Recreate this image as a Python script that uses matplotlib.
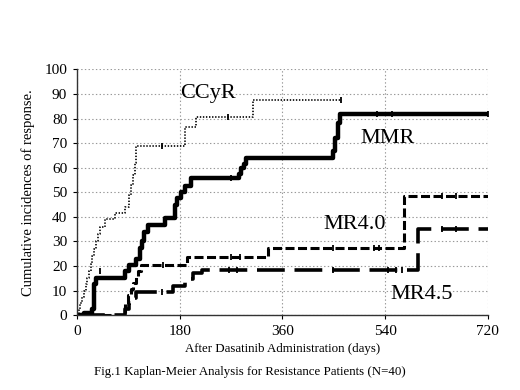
import matplotlib
matplotlib.use("Agg")
import matplotlib.pyplot as plt

plt.rcParams['font.family'] = ['Liberation Serif', 'DejaVu Serif']
plt.rcParams['lines.scale_dashes'] = False

# ---- data (days, cumulative incidence %) ----
ccyr_t = [0, 3, 6, 9, 12, 15, 18, 21, 24, 27, 30, 33, 36, 40, 49, 66, 84, 92, 95, 98, 101, 104, 189, 209, 308]
ccyr_v = [0, 2.5, 5, 7.5, 10, 12.5, 15, 18, 21, 24, 27, 30, 33, 36, 39, 41.5, 44, 49, 53, 57, 62, 69, 76.5, 80.5, 87.5]
ccyr_end = 463
ccyr_cens_t = [149, 265, 463]
ccyr_cens_v = [69, 80.5, 87.5]

mmr_t = [0, 12, 26, 29, 33, 84, 92, 104, 110, 114, 118, 124, 154, 171, 176, 182, 190, 200, 284, 288, 292, 296, 449, 453, 457, 461]
mmr_v = [0, 1, 2.5, 12.5, 15, 18, 20.5, 23, 27.5, 30, 34, 36.5, 39.5, 45, 47.5, 50, 52.5, 56, 57.5, 60, 61.5, 64, 67, 72, 78, 82]
mmr_end = 720
mmr_cens_t = [40, 270, 525, 553, 720]
mmr_cens_v = [18, 56, 82, 82, 82]

mr40_t = [0, 84, 89, 95, 99, 103, 107, 113, 192, 335, 574]
mr40_v = [0, 5.5, 8, 10.5, 13, 15.5, 18, 20.5, 23.5, 27.5, 48.5]
mr40_end = 720
mr40_cens_t = [150, 270, 285, 449, 520, 530, 640, 665]
mr40_cens_v = [20.5, 23.5, 23.5, 27.5, 27.5, 27.5, 48.5, 48.5]

mr45_t = [0, 84, 91, 98, 104, 168, 189, 203, 219, 598]
mr45_v = [0, 2.5, 5, 7, 9.5, 12, 14.5, 17, 18.5, 35]
mr45_end = 720
mr45_cens_t = [149, 267, 280, 449, 545, 560, 570, 640, 665]
mr45_cens_v = [9.5, 18.5, 18.5, 18.5, 18.5, 18.5, 18.5, 35, 35]

labels = ["CCyR", "MMR", "MR4.0", "MR4.5"]
xticks = [0, 180, 360, 540, 720]
yticks = list(range(0, 101, 10))

fig = plt.figure(figsize=(5.2, 3.9), dpi=100)
ax = fig.add_axes([0.148, 0.192, 0.79, 0.63])

def km(t, v, end, ct, cv, **kw):
    ax.step(t + [end], v + [v[-1]], where='post', color='black', **kw)
    ax.plot(ct, cv, linestyle='none', marker='|', color='black', markersize=4.5, mew=1.3)

km(ccyr_t, ccyr_v, ccyr_end, ccyr_cens_t, ccyr_cens_v, lw=1.2, dashes=(1.0, 1.2))
km(mmr_t, mmr_v, mmr_end, mmr_cens_t, mmr_cens_v, lw=3.2)
km(mr40_t, mr40_v, mr40_end, mr40_cens_t, mr40_cens_v, lw=2.2, dashes=(6.5, 2.5))
km(mr45_t, mr45_v, mr45_end, mr45_cens_t, mr45_cens_v, lw=2.6, dashes=(20, 7))

ax.set_xlim(0, 720)
ax.set_ylim(0, 100)
ax.set_xticks(xticks)
ax.set_yticks(yticks)
ax.grid(True, color='#999999', linestyle=':', linewidth=0.8)
ax.set_axisbelow(True)
for s in ['top', 'right']:
    ax.spines[s].set_visible(False)
for s in ['left', 'bottom']:
    ax.spines[s].set_linewidth(1.0)
    ax.spines[s].set_color('#333333')
ax.tick_params(labelsize=11, length=3, width=0.8, direction='out', pad=4)

ax.set_xlabel("After Dasatinib Administration (days)", fontsize=9.3, labelpad=4)
ax.set_ylabel("Cumulative incidences of response.", fontsize=10.5, labelpad=7)

ax.text(180, 90, labels[0], fontsize=16, ha='left', va='center')
ax.text(545, 72, labels[1], fontsize=16, ha='center', va='center')
ax.text(487, 37, labels[2], fontsize=16, ha='center', va='center')
ax.text(604, 8.5, labels[3], fontsize=16, ha='center', va='center')

fig.text(0.48, 0.046, "Fig.1 Kaplan-Meier Analysis for Resistance Patients (N=40)",
         fontsize=9.3, ha='center', va='center')

fig.savefig("out.png", dpi=100)
